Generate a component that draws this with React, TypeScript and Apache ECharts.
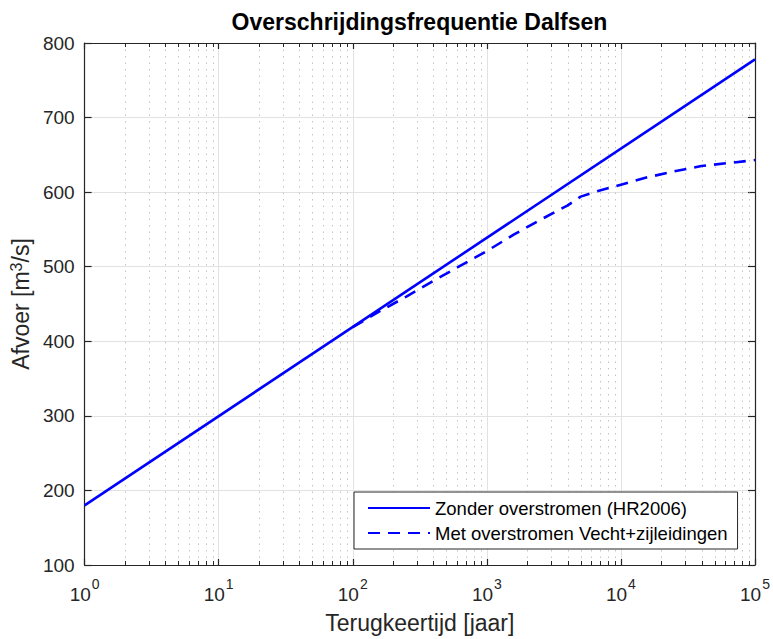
import React, { useEffect, useRef } from "react";
import * as echarts from "echarts";

const title = "Overschrijdingsfrequentie Dalfsen";
const xName = "Terugkeertijd [jaar]";
const seriesNames = ["Zonder overstromen (HR2006)", "Met overstromen Vecht+zijleidingen"];

// Return periods (years) and discharges (m3/s)
const solidT = [1, 100000];
const solidQ = [180, 778];

const dashedT = [100, 158, 251, 398, 631, 1000, 1585, 2512, 3981, 5012, 6310, 10000, 15849, 25119, 39811, 63096, 100000];
const dashedQ = [419, 440, 460, 481, 501, 521, 543, 563, 582, 594, 600, 610, 620, 628, 635, 639, 643];

const minorT = [
  2, 3, 4, 5, 6, 7, 8, 9,
  20, 30, 40, 50, 60, 70, 80, 90,
  200, 300, 400, 500, 600, 700, 800, 900,
  2000, 3000, 4000, 5000, 6000, 7000, 8000, 9000,
  20000, 30000, 40000, 50000, 60000, 70000, 80000, 90000,
];

const FONT = "'Liberation Sans', Arial, Helvetica, sans-serif";
const AX = "#262626";

export default function App() {
  const ref = useRef<HTMLDivElement>(null);
  useEffect(() => {
    if (!ref.current) return;
    const chart = echarts.init(ref.current, undefined, { renderer: "svg" });
    const supFmt = (v: number) => {
      const e = Math.round(Math.log10(v));
      return "{b|10}{s|" + e + "}";
    };
    const xCommon = {
      type: "log" as const,
      logBase: 10,
      min: 1,
      max: 100000,
      splitNumber: 5,
      axisLine: { show: true, lineStyle: { color: AX, width: 1.2 } },
      axisTick: { show: true, inside: true, length: 6, lineStyle: { color: AX, width: 1.2 } },
      minorTick: { show: false },
    };
    const yCommon = {
      type: "value" as const,
      min: 100,
      max: 800,
      interval: 100,
      axisLine: { show: true, lineStyle: { color: AX, width: 1.2 } },
      axisTick: { show: true, inside: true, length: 7, lineStyle: { color: AX, width: 1.2 } },
    };
    chart.setOption({
      animation: false,
      backgroundColor: "#ffffff",
      graphic: [
        {
          type: "text",
          x: 419.5,
          y: 22,
          silent: true,
          style: {
            text: title,
            fontFamily: FONT,
            fontSize: 23,
            fontWeight: "bold",
            fill: "#000",
            textAlign: "center",
            textVerticalAlign: "middle",
          },
        },
      ],
      grid: { left: 84, right: 18, top: 43, bottom: 65, containLabel: false },
      legend: {
        orient: "vertical",
        left: 354,
        top: 492,
        padding: [5, 10, 5, 13],
        itemGap: 3,
        itemWidth: 62,
        itemHeight: 14,
        backgroundColor: "#ffffff",
        borderColor: AX,
        borderWidth: 1,
        itemStyle: { opacity: 0 },
        textStyle: { fontFamily: FONT, fontSize: 18.5, color: "#000", lineHeight: 22 },
        data: seriesNames,
      },
      xAxis: [
        {
          ...xCommon,
          position: "bottom",
          name: xName,
          nameLocation: "middle",
          nameGap: 46,
          nameTextStyle: { fontFamily: FONT, fontSize: 23, color: AX },
          axisLabel: {
            margin: 12,
            formatter: supFmt,
            rich: {
              b: { fontFamily: FONT, fontSize: 19, color: AX, padding: [8, 0, 0, 0] },
              s: { fontFamily: FONT, fontSize: 14, color: AX, verticalAlign: "top", padding: [0, 0, 8, 1] },
            },
          },
          splitLine: { show: true, lineStyle: { color: "#e2e2e2", width: 1 } },
        },
        {
          ...xCommon,
          position: "top",
          axisLabel: { show: false },
          splitLine: { show: false },
        },
      ],
      yAxis: [
        {
          ...yCommon,
          position: "left",
          name: "Afvoer [m{s|3}/s]",
          nameLocation: "middle",
          nameGap: 48,
          nameTextStyle: {
            fontFamily: FONT,
            fontSize: 23,
            color: AX,
            rich: {
              s: { fontFamily: FONT, fontSize: 16, color: AX, verticalAlign: "top", padding: [0, 0, 9, 0] },
            },
          },
          axisLabel: { margin: 10, fontFamily: FONT, fontSize: 19, color: AX },
          splitLine: { show: true, lineStyle: { color: "#e2e2e2", width: 1 } },
        },
        {
          ...yCommon,
          position: "right",
          axisLabel: { show: false },
          splitLine: { show: false },
        },
      ],
      series: [
        {
          type: "custom",
          silent: true,
          xAxisIndex: 0,
          yAxisIndex: 0,
          z: 1,
          data: minorT.map((t) => [t, 100]),
          renderItem: (params: any, api: any) => {
            const cs = params.coordSys;
            const p = api.coord([api.value(0), api.value(1)]);
            const x = Math.round(p[0]) + 0.5;
            const top = cs.y;
            const bot = cs.y + cs.height;
            return {
              type: "group",
              children: [
                {
                  type: "line",
                  shape: { x1: x, y1: top, x2: x, y2: bot },
                  style: { stroke: "#c4c4c4", lineWidth: 1, lineDash: [1.5, 5] },
                },
                {
                  type: "line",
                  shape: { x1: x, y1: bot, x2: x, y2: bot - 4 },
                  style: { stroke: AX, lineWidth: 1 },
                },
                {
                  type: "line",
                  shape: { x1: x, y1: top, x2: x, y2: top + 4 },
                  style: { stroke: AX, lineWidth: 1 },
                },
              ],
            };
          },
        },
        {
          name: seriesNames[0],
          type: "line",
          xAxisIndex: 0,
          yAxisIndex: 0,
          z: 5,
          symbol: "none",
          data: solidT.map((t, i) => [t, solidQ[i]]),
          lineStyle: { color: "#0000ff", width: 2.6, type: "solid" },
          itemStyle: { color: "#0000ff" },
        },
        {
          name: seriesNames[1],
          type: "line",
          xAxisIndex: 0,
          yAxisIndex: 0,
          z: 4,
          symbol: "none",
          data: dashedT.map((t, i) => [t, dashedQ[i]]),
          lineStyle: { color: "#0000ff", width: 2.6, type: [12, 8] },
          itemStyle: { color: "#0000ff" },
        },
      ],
    });
    return () => chart.dispose();
  }, []);
  return (
    <div
      ref={ref}
      style={{ position: "fixed", left: 0, top: 0, width: 773, height: 639 }}
    />
  );
}
